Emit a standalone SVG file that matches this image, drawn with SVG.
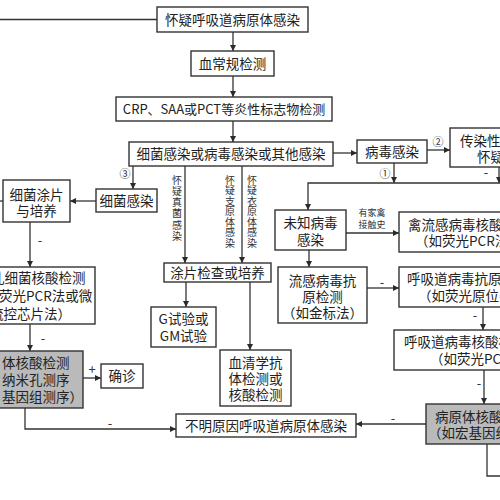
<svg xmlns="http://www.w3.org/2000/svg" width="500" height="500" viewBox="0 0 500 500">
<defs>
<marker id="ah" viewBox="0 0 10 10" refX="10" refY="5" markerWidth="6" markerHeight="6" orient="auto" markerUnits="userSpaceOnUse">
<path d="M0,0 L10,5 L0,10 z" fill="#2a2a2a"/>
</marker>
<style>
.b{fill:#fff;stroke:#333;stroke-width:1.4}
.g{fill:#bababa;stroke:#333;stroke-width:1.4}
.t{font-family:"Noto Sans CJK SC","Noto Sans",sans-serif;font-size:13.5px;fill:#222}
.c{text-anchor:middle}
.s{font-family:"Noto Sans CJK SC","Noto Sans",sans-serif;font-size:9px;fill:#333;text-anchor:middle}
.v{font-family:"Noto Sans CJK SC","Noto Sans",sans-serif;font-size:10px;fill:#333;writing-mode:vertical-rl}
.m{font-family:"Noto Sans CJK SC","Noto Sans",sans-serif;font-size:13px;fill:#333;text-anchor:middle}
.l{fill:none;stroke:#333;stroke-width:1.3}
.a{fill:none;stroke:#333;stroke-width:1.3;marker-end:url(#ah)}
</style>
</defs>
<rect width="500" height="500" fill="#fff"/>

<g id="connectors">
<line class="l" x1="0" y1="19.5" x2="157" y2="19.5"/>
<line class="a" x1="233" y1="32" x2="233" y2="51"/>
<line class="a" x1="233" y1="76" x2="233" y2="97"/>
<line class="a" x1="233" y1="121" x2="233" y2="142"/>
<line class="a" x1="333" y1="153" x2="357" y2="153"/>
<line class="a" x1="427" y1="150" x2="450" y2="150"/>
<line class="a" x1="394" y1="163" x2="394" y2="183"/>
<line class="a" x1="499" y1="167" x2="499" y2="183"/>
<polyline class="a" points="500,183 308,183 308,210"/>
<line class="a" x1="346" y1="233" x2="399" y2="233"/>
<line class="a" x1="309" y1="250" x2="309" y2="267"/>
<line class="a" x1="367" y1="288" x2="399" y2="288"/>
<line class="a" x1="483" y1="307" x2="483" y2="330"/>
<line class="a" x1="484" y1="370" x2="484" y2="404"/>
<line class="a" x1="426" y1="424" x2="356" y2="424"/>
<polyline class="l" points="487,444 487,476 500,476"/>
<line class="a" x1="133" y1="166" x2="133" y2="189"/>
<line class="a" x1="96" y1="201" x2="70" y2="201"/>
<line class="l" x1="0" y1="201" x2="3" y2="201"/>
<line class="a" x1="30" y1="222" x2="30" y2="267"/>
<line class="a" x1="30" y1="324" x2="30" y2="351"/>
<line class="a" x1="83" y1="378" x2="101" y2="378"/>
<polyline class="a" points="25,408 25,429 176,429"/>
<line class="a" x1="185" y1="166" x2="185" y2="263"/>
<line class="a" x1="242" y1="166" x2="242" y2="263"/>
<line class="a" x1="186" y1="282" x2="186" y2="307"/>
<line class="a" x1="250" y1="282" x2="250" y2="350"/>
<text class="s" x="438" y="146" style="font-size:11px">②</text>
<text class="s" x="385" y="178" style="font-size:11px">①</text>
<text class="s" x="125" y="178" style="font-size:11px">③</text>
<text class="m" x="486" y="177">-</text>
<text class="s" x="372" y="216">有家禽</text>
<text class="s" x="372" y="228">接触史</text>
<text class="m" x="382" y="287">-</text>
<text class="m" x="475" y="320">-</text>
<text class="m" x="479" y="388">-</text>
<text class="m" x="393" y="423">-</text>
<text class="m" x="40" y="245">-</text>
<text class="m" x="43" y="343">-</text>
<text class="m" x="92" y="374">+</text>
<text class="m" x="110" y="428">-</text>
<text class="v" x="177" y="175" style="letter-spacing:1.2px">怀疑真菌感染</text>
<text class="v" x="230" y="175" style="letter-spacing:0.5px">怀疑支原体感染</text>
<text class="v" x="252" y="175" style="letter-spacing:0.5px">怀疑衣原体感染</text>
</g>

<g id="n1"><rect class="b" x="157" y="7" width="151" height="25"/><text class="t c" x="232.5" y="24.5">怀疑呼吸道病原体感染</text></g>
<g id="n2"><rect class="b" x="191" y="51" width="83" height="25"/><text class="t c" x="232.5" y="68.5">血常规检测</text></g>
<g id="n3"><rect class="b" x="116" y="97" width="216" height="24"/><text class="t c" x="224" y="114" style="font-size:13px">CRP、SAA或PCT等炎性标志物检测</text></g>
<g id="n4"><rect class="b" x="129" y="142" width="204" height="24"/><text class="t c" x="231" y="159">细菌感染或病毒感染或其他感染</text></g>
<g id="n5"><rect class="b" x="357" y="140" width="70" height="23"/><text class="t c" x="392" y="156.5">病毒感染</text></g>
<g id="n6"><rect class="b" x="450" y="128" width="60" height="39"/><text class="t" x="460" y="146">传染性</text><text class="t" x="477" y="162">怀疑</text></g>
<g id="n7"><rect class="b" x="275" y="210" width="71" height="40"/><text class="t c" x="310.5" y="227.5">未知病毒</text><text class="t c" x="310.5" y="244.5">感染</text></g>
<g id="n8"><rect class="b" x="399" y="212" width="111" height="40"/><text class="t" x="408" y="230">禽流感病毒核酸</text><text class="t" x="415" y="246">（如荧光PCR法</text></g>
<g id="n9"><rect class="b" x="278" y="267" width="89" height="56"/><text class="t c" x="322.5" y="286">流感病毒抗</text><text class="t c" x="322.5" y="302">原检测</text><text class="t c" x="322.5" y="318">（如金标法）</text></g>
<g id="n10"><rect class="b" x="399" y="267" width="111" height="40"/><text class="t" x="407" y="284">呼吸道病毒抗原</text><text class="t" x="418" y="301">（如荧光原位杂</text></g>
<g id="n11"><rect class="b" x="394" y="330" width="116" height="40"/><text class="t" x="404" y="347">呼吸道病毒核酸检</text><text class="t" x="430" y="364">（如荧光PCR法</text></g>
<g id="n12"><rect class="g" x="426" y="404" width="84" height="40"/><text class="t" x="435" y="422">病原体核酸检</text><text class="t" x="428" y="438">（如宏基因组</text></g>
<g id="n13"><rect class="b" x="96" y="189" width="61" height="23"/><text class="t c" x="126.5" y="205.5">细菌感染</text></g>
<g id="n14"><rect class="b" x="3" y="180" width="67" height="42"/><text class="t c" x="36.5" y="199.5">细菌涂片</text><text class="t c" x="36.5" y="216">与培养</text></g>
<g id="n15"><rect class="b" x="-5" y="267" width="100" height="57"/><text class="t" x="-9" y="283">孔细菌核酸检测</text><text class="t" x="-1" y="301">荧光PCR法或微</text><text class="t" x="-10" y="319">流控芯片法）</text></g>
<g id="n16"><rect class="g" x="-5" y="351" width="88" height="57"/><text class="t" x="2" y="368">体核酸检测</text><text class="t" x="2" y="385">纳米孔测序</text><text class="t" x="2" y="402">基因组测序）</text></g>
<g id="n17"><rect class="b" x="101" y="364" width="42" height="24"/><text class="t c" x="122" y="381">确诊</text></g>
<g id="n18"><rect class="b" x="176" y="414" width="180" height="23"/><text class="t c" x="266" y="430.5">不明原因呼吸道病原体感染</text></g>
<g id="n19"><rect class="b" x="164" y="263" width="107" height="19"/><text class="t c" x="217.5" y="277.5">涂片检查或培养</text></g>
<g id="n20"><rect class="b" x="151" y="307" width="65" height="40"/><text class="t c" x="183.5" y="324">G试验或</text><text class="t c" x="183.5" y="341">GM试验</text></g>
<g id="n21"><rect class="b" x="220" y="350" width="71" height="56"/><text class="t c" x="255.5" y="368">血清学抗</text><text class="t c" x="255.5" y="384">体检测或</text><text class="t c" x="255.5" y="400">核酸检测</text></g>
</svg>
